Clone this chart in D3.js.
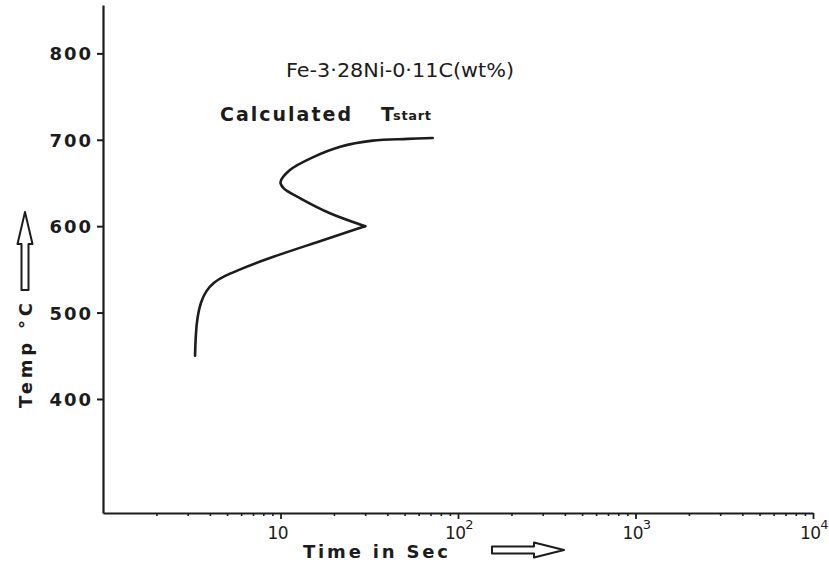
<!DOCTYPE html>
<html>
<head>
<meta charset="utf-8">
<script src="https://cdn.jsdelivr.net/npm/d3@7"></script>
<style>
  html, body { margin: 0; padding: 0; background: #ffffff; }
  svg { display: block; }
  text { fill: #1c1c1c; }
</style>
</head>
<body>
<svg id="chart" width="829" height="564"></svg>
<script>
// Calculated transformation-start curve for Fe-3.28Ni-0.11C (wt%)
// time in seconds (log scale) vs temperature in °C
const lowerTime = [3.3, 3.33, 3.4, 3.55, 3.8, 4.2, 4.8, 5.6, 8.0, 15.3, 30];
const lowerTemp = [450, 475, 495, 512, 525, 535, 542, 548, 561, 580, 600];
const upperTime = [30, 19, 13, 10.4, 10, 11.3, 15.3, 21.7, 33, 52, 72];
const upperTemp = [600, 615, 632, 644, 651, 665, 680, 692, 699, 701, 702];

const tempTicks = [400, 500, 600, 700, 800];
const timeMajor = [10, 100, 1000, 10000];
const timeLabels = [
  { value: 10, base: "10", exp: "" },
  { value: 100, base: "10", exp: "2" },
  { value: 1000, base: "10", exp: "3" },
  { value: 10000, base: "10", exp: "4" }
];
const titleText = "Fe-3·28Ni-0·11C(wt%)";
const curveName = "Calculated";
const curveSymbol = "T";
const curveSub = "start";
const xTitle = "Time in Sec";
const yTitle = "Temp °C";

const svg = d3.select("#chart");
const ink = "#1c1c1c";
const font = "DejaVu Sans, sans-serif";

const x = d3.scaleLog().domain([1, 10000]).range([103, 813]);
const y = d3.scaleLinear().domain([268, 856]).range([513, 5]);

// minor ticks 2..9 within each decade
const minorTicks = [];
[1, 10, 100, 1000].forEach(d => { for (let k = 2; k <= 9; k++) minorTicks.push(k * d); });

// Y axis
const yAxis = svg.append("g")
  .attr("transform", `translate(${x.range()[0]},0)`)
  .call(d3.axisLeft(y).tickValues(tempTicks).tickSize(6).tickSizeOuter(0).tickPadding(4)
    .tickFormat(d3.format("d")));
yAxis.select(".domain").attr("stroke", ink).attr("stroke-width", 2.2);
yAxis.selectAll(".tick line").attr("stroke", ink).attr("stroke-width", 2);
yAxis.selectAll(".tick text")
  .attr("font-family", font)
  .attr("font-weight", "bold")
  .attr("font-size", 18)
  .attr("letter-spacing", 2)
  .attr("dy", "0.36em")
  .style("fill", ink);

// X axis: major and minor ticks
const xAxis = svg.append("g")
  .attr("transform", `translate(0,${y.range()[0]})`)
  .call(d3.axisBottom(x).tickValues(timeMajor).tickSize(6).tickSizeOuter(0).tickFormat(""));
xAxis.select(".domain").attr("stroke", ink).attr("stroke-width", 2.2);
xAxis.selectAll(".tick line").attr("stroke", ink).attr("stroke-width", 1.8);

const xMinor = svg.append("g")
  .attr("transform", `translate(0,${y.range()[0]})`)
  .call(d3.axisBottom(x).tickValues(minorTicks).tickSize(3).tickSizeOuter(0).tickFormat(""));
xMinor.select(".domain").remove();
xMinor.selectAll(".tick line").attr("stroke", ink).attr("stroke-width", 1.6);

// X tick labels: powers of ten
const lab = svg.append("g")
  .attr("font-family", font)
  .attr("font-size", 17);
timeLabels.forEach(t => {
  const txt = lab.append("text")
    .attr("x", x(t.value) - 13)
    .attr("y", 539)
    .attr("letter-spacing", -0.5)
    .attr("text-anchor", "start");
  txt.append("tspan").text(t.base);
  if (t.exp) {
    txt.append("tspan").attr("dy", -10).attr("dx", -0.5).attr("font-size", 13).text(t.exp);
  }
});

// Curve
const lowerLine = d3.line()
  .x((d) => x(d[0]))
  .y((d) => y(d[1]))
  .curve(d3.curveBasis);
const upperLine = d3.line()
  .x((d) => x(d[0]))
  .y((d) => y(d[1]))
  .curve(d3.curveCatmullRom.alpha(0.5));

const lowerPts = lowerTime.map((t, i) => [t, lowerTemp[i]]);
const upperPts = upperTime.map((t, i) => [t, upperTemp[i]]);

svg.append("path")
  .datum(lowerPts)
  .attr("d", lowerLine)
  .attr("fill", "none")
  .attr("stroke", ink)
  .attr("stroke-width", 2.6)
  .attr("stroke-linecap", "round")
  .attr("stroke-linejoin", "round");
svg.append("path")
  .datum(upperPts)
  .attr("d", upperLine)
  .attr("fill", "none")
  .attr("stroke", ink)
  .attr("stroke-width", 2.6)
  .attr("stroke-linecap", "round")
  .attr("stroke-linejoin", "round");

// Alloy title
svg.append("text")
  .attr("x", 286)
  .attr("y", 77)
  .attr("font-family", font)
  .attr("font-size", 20)
  .attr("textLength", 228)
  .attr("lengthAdjust", "spacingAndGlyphs")
  .text(titleText);

// Curve label
svg.append("text")
  .attr("x", 220)
  .attr("y", 121)
  .attr("font-family", font)
  .attr("font-weight", "bold")
  .attr("font-size", 19)
  .attr("textLength", 131)
  .attr("lengthAdjust", "spacing")
  .text(curveName);
svg.append("text")
  .attr("x", 381)
  .attr("y", 121)
  .attr("font-family", font)
  .attr("font-weight", "bold")
  .attr("font-size", 19)
  .text(curveSymbol);
svg.append("text")
  .attr("x", 393)
  .attr("y", 120)
  .attr("font-family", font)
  .attr("font-weight", "bold")
  .attr("font-size", 13)
  .attr("textLength", 38)
  .attr("lengthAdjust", "spacing")
  .text(curveSub);

// X axis title with arrow
svg.append("text")
  .attr("x", 303)
  .attr("y", 558)
  .attr("font-family", font)
  .attr("font-weight", "bold")
  .attr("font-size", 18)
  .attr("textLength", 145)
  .attr("lengthAdjust", "spacing")
  .text(xTitle);

function hollowArrow(g, len, shaft, head, headLen) {
  // arrow pointing along +x starting at 0
  const s = shaft / 2, h = head / 2, b = len - headLen;
  g.append("path")
    .attr("d", `M0,${-s} L${b},${-s} L${b},${-h} L${len},0 L${b},${h} L${b},${s} L0,${s} Z`)
    .attr("fill", "none")
    .attr("stroke", ink)
    .attr("stroke-width", 2)
    .attr("stroke-linejoin", "round");
}
const xa = svg.append("g").attr("transform", "translate(492,550)");
hollowArrow(xa, 72, 7, 15, 30);

// Y axis title with arrow
svg.append("text")
  .attr("transform", "translate(32,408) rotate(-90)")
  .attr("font-family", font)
  .attr("font-weight", "bold")
  .attr("font-size", 18)
  .attr("textLength", 105)
  .attr("lengthAdjust", "spacing")
  .text(yTitle);
const ya = svg.append("g").attr("transform", "translate(25,290) rotate(-90)");
hollowArrow(ya, 78, 7, 15, 32);
</script>
</body>
</html>
